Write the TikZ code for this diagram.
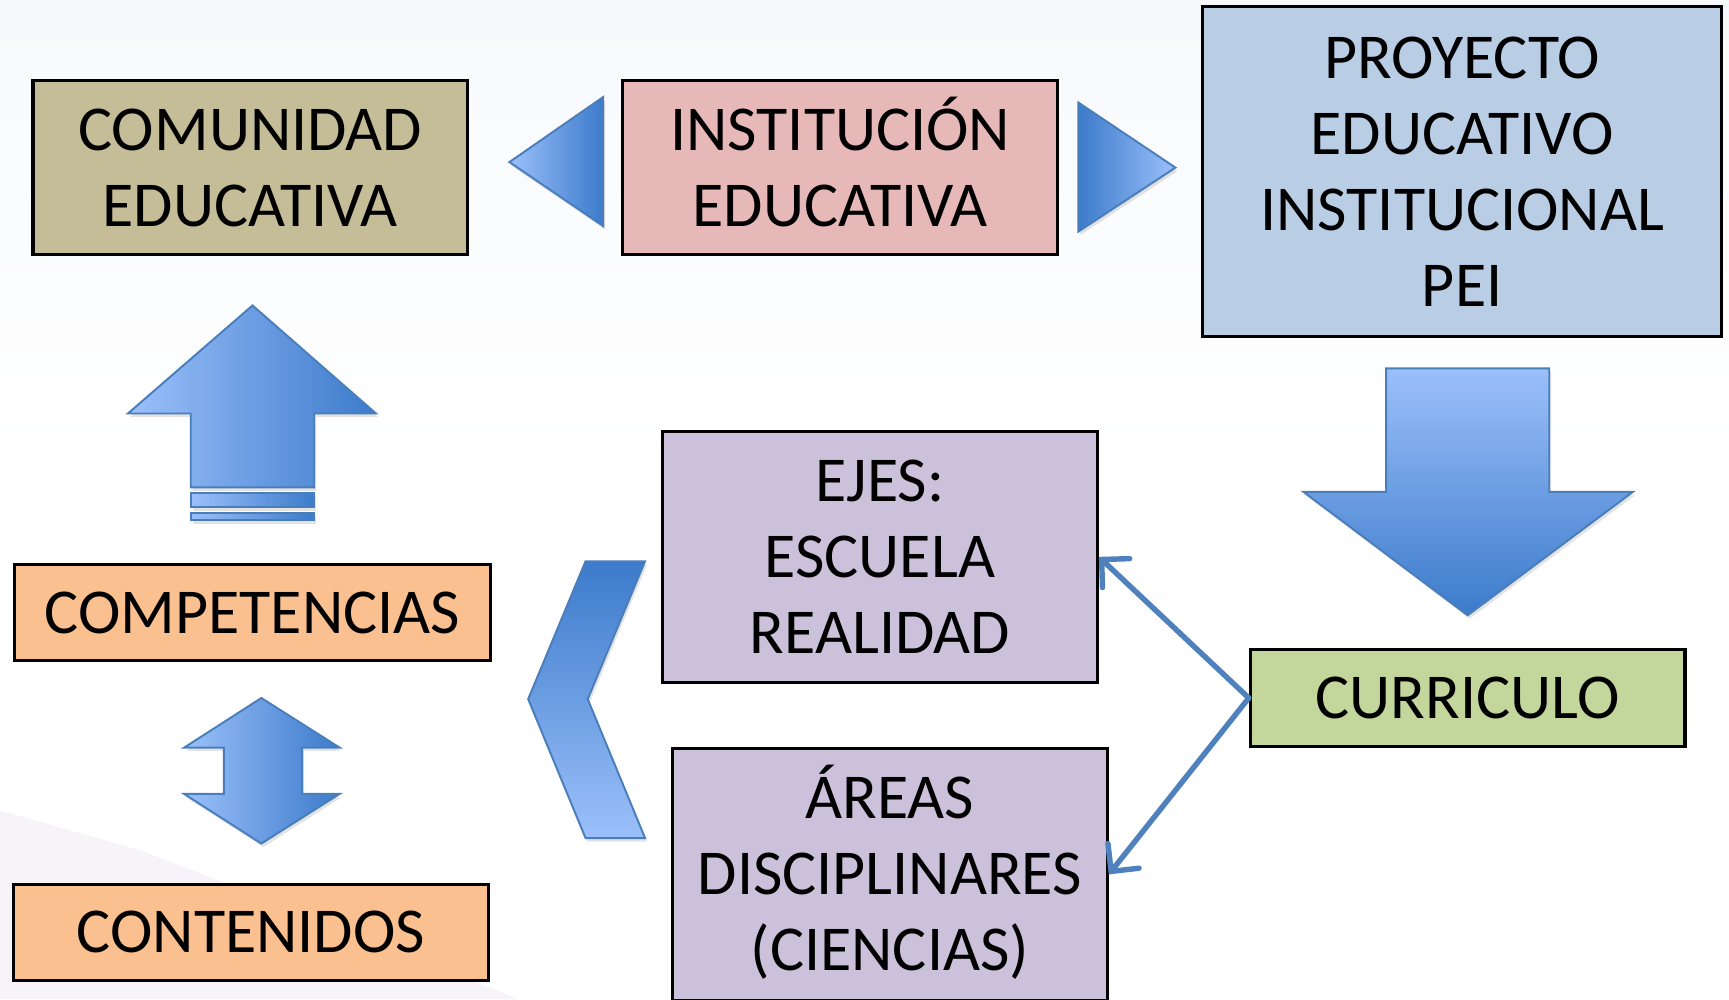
\documentclass[tikz,border=0pt]{standalone}
\usepackage{fontspec}
\setmainfont{Carlito}
\usepackage{tikz}
\usetikzlibrary{arrows.meta}
\usetikzlibrary{shadows}

\definecolor{comunidadfill}{HTML}{C4BD97}
\definecolor{institucionfill}{HTML}{E6B9B8}
\definecolor{peifill}{HTML}{B9CDE5}
\definecolor{orangefill}{HTML}{FAC090}
\definecolor{lilacfill}{HTML}{CCC1DA}
\definecolor{greenfill}{HTML}{C3D69B}
\definecolor{arrowlight}{HTML}{9BC0FA}
\definecolor{arrowdark}{HTML}{3C7BCB}
\definecolor{arrowedge}{HTML}{4A7EBB}
\definecolor{linkblue}{HTML}{4F81BD}
\definecolor{bgtop}{HTML}{F7F9FC}
\definecolor{swoosh}{HTML}{F7F4F9}

\begin{document}
\begin{tikzpicture}[x=0.01cm,y=-0.01cm]
      \newcommand{\capline}[1]{\smash{#1}\vphantom{COMUNIDAD}}
      \tikzstyle{box}=[
        draw=black,
        line width=0.8pt,
        inner sep=0pt,
        align=center,
        font=\fontsize{16.5}{19.6}\selectfont,
      ]
      \tikzstyle{blockarrow}=[draw=arrowedge,line width=0.5pt,line join=miter,
        drop shadow={opacity=0.22,shadow xshift=0.5pt,shadow yshift=-0.9pt}]
      \tikzstyle{link}=[line width=1.4pt,draw=linkblue,line cap=round,
        -{Straight Barb[length=1.8mm,width=3.6mm,line cap=round]}]

      \useasboundingbox (0,0) rectangle (1568,906);
      \fill[top color=bgtop,bottom color=white] (0,0) rectangle (1568,420);
      \fill[swoosh] (0,735) -- (130,772) -- (330,850) -- (470,906) -- (0,906) -- cycle;

      \node[box,fill=comunidadfill,minimum width=3.94cm,minimum height=1.58cm] (comunidad) at (227,152) {COMUNIDAD\\EDUCATIVA};
      \node[box,fill=institucionfill,minimum width=3.94cm,minimum height=1.58cm] (institucion) at (762,152) {\capline{INSTITUCIÓN}\\EDUCATIVA};
      \node[box,fill=peifill,minimum width=4.70cm,minimum height=2.99cm] (pei) at (1326,155.5) {PROYECTO\\EDUCATIVO\\INSTITUCIONAL\\PEI};
      \node[box,fill=orangefill,minimum width=4.32cm,minimum height=0.87cm] (competencias) at (229,555.5) {COMPETENCIAS};
      \node[box,fill=orangefill,minimum width=4.31cm,minimum height=0.87cm] (contenidos) at (227.5,845.5) {CONTENIDOS};
      \node[box,fill=lilacfill,minimum width=3.94cm,minimum height=2.28cm] (ejes) at (798,505) {EJES:\\ESCUELA\\REALIDAD};
      \node[box,fill=lilacfill,minimum width=3.94cm,minimum height=2.28cm] (areas) at (807,793) {\capline{ÁREAS}\\DISCIPLINARES\\\capline{(CIENCIAS)}};
      \node[box,fill=greenfill,minimum width=3.94cm,minimum height=0.88cm] (curriculo) at (1331,633) {CURRICULO};

      \draw[blockarrow,left color=arrowlight,right color=arrowdark] (462,147) -- (547,88) -- (547,205) -- cycle;
      \draw[blockarrow,left color=arrowdark,right color=arrowlight] (978,93) -- (1066,152) -- (978,210) -- cycle;
      \draw[blockarrow,top color=arrowlight,bottom color=arrowdark] (1257,334) -- (1405,334) -- (1405,446) -- (1481,446)
        -- (1331,558) -- (1182,446) -- (1257,446) -- cycle;
      \draw[blockarrow,left color=arrowlight,right color=arrowdark] (229,277) -- (341,375) -- (285,375) -- (285,442)
        -- (173,442) -- (173,375) -- (116,375) -- cycle;
      \draw[blockarrow,left color=arrowlight,right color=arrowdark] (173,447) rectangle (285,460);
      \draw[blockarrow,left color=arrowlight,right color=arrowdark] (173,465) rectangle (285,472);
      \draw[blockarrow,left color=arrowlight,right color=arrowdark] (237,633) -- (308,678) -- (274,678) -- (274,720)
        -- (308,720) -- (237,765) -- (167,720) -- (203,720) -- (203,678) -- (167,678) -- cycle;
      \draw[blockarrow,top color=arrowdark,bottom color=arrowlight] (531,509) -- (585,509) -- (533,634) -- (585,760)
        -- (531,760) -- (479,634) -- cycle;

      \draw[link] (curriculo.west) -- (ejes.east);
      \draw[link] (curriculo.west) -- (areas.east);
\end{tikzpicture}
\end{document}
